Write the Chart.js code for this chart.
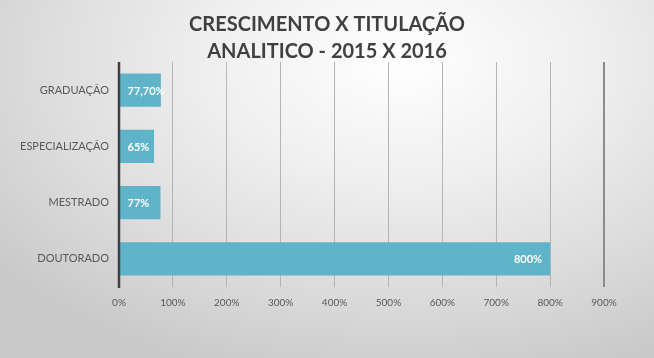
<!DOCTYPE html>
<html>
<head>
<meta charset="utf-8">
<script src="https://cdn.jsdelivr.net/npm/chart.js@4"></script>
<style>
html,body{margin:0;padding:0;}
body{width:654px;height:358px;overflow:hidden;
background: radial-gradient(ellipse 520px 330px at 400px 60px, #ffffff 0%, #f0f0f0 35%, #dcdcdc 70%, #c9c9c9 100%);}
#wrap{position:absolute;left:0;top:0;width:654px;height:358px;}
</style>
</head>
<body>
<div id="wrap"><canvas id="c" width="654" height="358"></canvas></div>
<script>
const categories = ["GRADUAÇÃO", "ESPECIALIZAÇÃO", "MESTRADO", "DOUTORADO"];
const values = [77.7, 65, 77, 800];
const valueLabels = ["77,70%", "65%", "77%", "800%"];
const titleLines = ["CRESCIMENTO X TITULAÇÃO", "ANALITICO - 2015 X 2016"];

const labelPlugin = {
  id: 'barLabels',
  afterDatasetsDraw(chart) {
    const ctx = chart.ctx;
    const meta = chart.getDatasetMeta(0);
    ctx.save();
    ctx.font = 'bold 11px Lato, "Liberation Sans", sans-serif';
    ctx.fillStyle = '#ffffff';
    ctx.textBaseline = 'middle';
    ctx.textAlign = 'left';
    meta.data.forEach((bar, i) => {
      const t = valueLabels[i];
      const w = ctx.measureText(t).width;
      let x = bar.x - 8 - w;
      if (bar.x - bar.base < 100 || x < bar.base + 8) x = bar.base + 8;
      ctx.fillText(t, x, bar.y + 1);
    });
    ctx.restore();
  }
};

const titlePlugin = {
  id: 'customTitle',
  afterDraw(chart) {
    const ctx = chart.ctx;
    ctx.save();
    ctx.font = 'bold 20px Lato, "Liberation Sans", sans-serif';
    ctx.fillStyle = '#404040';
    ctx.textAlign = 'center';
    ctx.textBaseline = 'middle';
    ctx.fillText(titleLines[0], 327, 25);
    ctx.fillText(titleLines[1], 327, 52);
    ctx.restore();
  }
};

const axisPlugin = {
  id: 'leftAxis',
  afterDatasetsDraw(chart) {
    const ctx = chart.ctx, a = chart.chartArea;
    ctx.save();
    ctx.strokeStyle = '#404040';
    ctx.lineWidth = 2.5;
    ctx.beginPath();
    ctx.moveTo(a.left, a.top);
    ctx.lineTo(a.left, a.bottom + 1);
    ctx.stroke();
    ctx.restore();
  }
};

new Chart(document.getElementById('c'), {
  type: 'bar',
  data: {
    labels: categories,
    datasets: [{
      data: values,
      backgroundColor: '#60b4ca',
      borderWidth: 0,
      barPercentage: 0.72,
      categoryPercentage: 0.82
    }]
  },
  options: {
    indexAxis: 'y',
    responsive: false,
    animation: false,
    devicePixelRatio: 1,
    layout: { padding: { left: 8, right: 50, top: 62, bottom: 39 } },
    plugins: {
      legend: { display: false },
      tooltip: { enabled: false },
      title: { display: false }
    },
    scales: {
      x: {
        min: 0, max: 900,
        ticks: {
          stepSize: 100,
          callback: v => v + '%',
          color: '#595959',
          font: { family: 'Lato, "Liberation Sans", sans-serif', size: 10 },
          padding: 10
        },
        grid: {
          color: ctx => ctx.tick && ctx.tick.value === 900 ? '#8c8c8c' : '#b4b4b4',
          lineWidth: ctx => ctx.tick && ctx.tick.value === 900 ? 2 : 1,
          drawTicks: false
        },
        border: { display: false }
      },
      y: {
        afterFit(scale) { scale.width = 111; },
        ticks: {
          color: '#595959',
          font: { family: 'Lato, "Liberation Sans", sans-serif', size: 11 },
          padding: 10
        },
        grid: { display: false, drawTicks: false },
        border: { display: false }
      }
    }
  },
  plugins: [labelPlugin, axisPlugin, titlePlugin]
});
</script>
</body>
</html>
